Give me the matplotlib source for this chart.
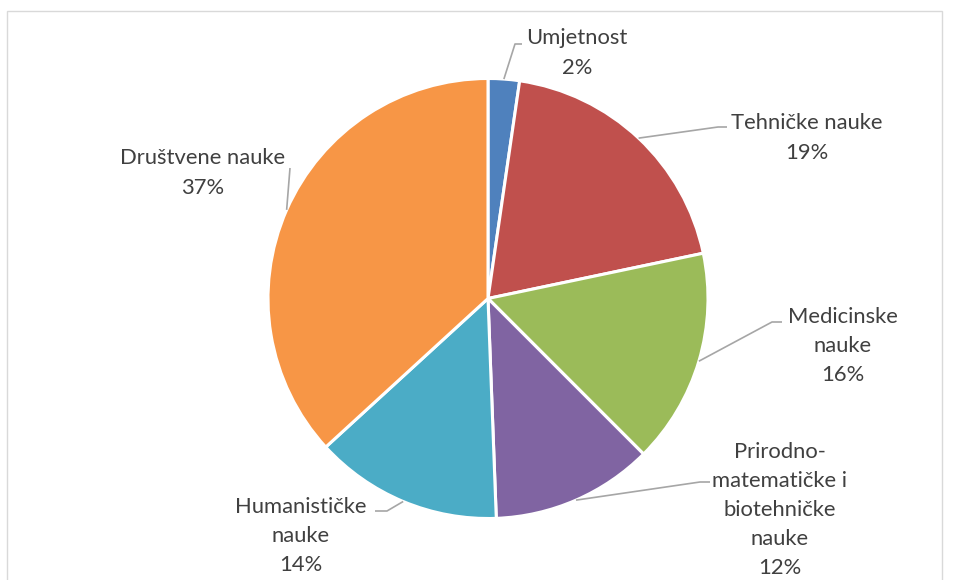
import numpy as np
import matplotlib
matplotlib.use("Agg")
import matplotlib.pyplot as plt
from matplotlib.patches import Rectangle

# ---- data ----
categories = ["Umjetnost", "Tehničke nauke", "Medicinske nauke",
              "Prirodno-matematičke i biotehničke nauke",
              "Humanističke nauke", "Društvene nauke"]
label_texts = ["Umjetnost", "Tehničke nauke", "Medicinske\nnauke",
               "Prirodno-\nmatematičke i\nbiotehničke\nnauke",
               "Humanističke\nnauke", "Društvene nauke"]
values = [2.3, 19.4, 15.8, 11.9, 13.8, 36.8]
colors = ["#4F81BD", "#C0504D", "#9BBB59", "#8064A2", "#4BACC6", "#F79646"]

# ---- layout (pixels in 956x580 image, y from top) ----
W, H = 956, 580
cx, cy, R = 488, 298.5, 220
label_pos = [(577, 53), (807, 138), (843, 346), (780, 510), (301, 536), (203, 173)]
elbows = [((515, 44), (522, 44)),
          ((718, 127), (727, 127)),
          ((772, 322), (782, 322)),
          ((700, 482), (710, 482)),
          ((387, 511), (375, 511)),
          ((290, 168), (290, 168))]

def to_data(p):
    return ((p[0] - cx) / R, (cy - p[1]) / R)

fig = plt.figure(figsize=(W / 100, H / 100), dpi=100)
fig.patches.append(Rectangle((7 / W, -0.05), (942 - 7) / W, 1.05 - 11 / H - 0.0,
                             transform=fig.transFigure, fill=False,
                             edgecolor="#D9D9D9", linewidth=1.0))
ax = fig.add_axes([(cx - R) / W, (H - cy - R) / H, 2 * R / W, 2 * R / H])

wedges, _ = ax.pie(values, colors=colors, startangle=90, counterclock=False,
                   radius=1.0, wedgeprops=dict(edgecolor="white", linewidth=2.2))
ax.set_xlim(-1, 1)
ax.set_ylim(-1, 1)
ax.set_aspect("auto")
ax.axis("off")

text_color = "#404040"
line_color = "#A6A6A6"
for w, txt, v, lp, (e1, e2) in zip(wedges, label_texts, values, label_pos, elbows):
    mid = np.deg2rad((w.theta1 + w.theta2) / 2)
    sx, sy = np.cos(mid), np.sin(mid)
    ex1, ey1 = to_data(e1)
    ex2, ey2 = to_data(e2)
    ax.plot([sx, ex1, ex2], [sy, ey1, ey2], color=line_color, lw=1.2,
            clip_on=False, solid_capstyle="butt")
    tx, ty = to_data(lp)
    ax.text(tx, ty, f"{txt}\n{v:.0f}%", ha="center", va="center",
            fontsize=15.8, family="Lato", color=text_color,
            linespacing=1.57, clip_on=False)

fig.savefig("out.png", dpi=100)
